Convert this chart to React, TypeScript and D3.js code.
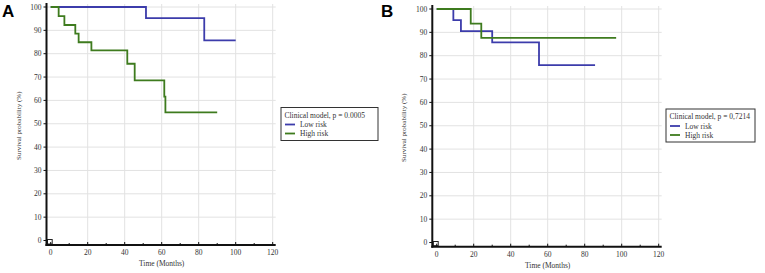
import React from "react";
import * as d3 from "d3";

const xTicks = [0, 20, 40, 60, 80, 100, 120];
const xMinor = [10, 30, 50, 70, 90, 110];
const yTicks = [0, 10, 20, 30, 40, 50, 60, 70, 80, 90, 100];

// Panel A
const aLowTimes = [0, 51.5, 83, 100];
const aLowSurv = [100, 95.2, 85.7, 85.7];
const aHighTimes = [0, 4.3, 7.4, 13.3, 15.1, 22, 41.4, 45.4, 61.4, 62, 90];
const aHighSurv = [100, 96.1, 92.3, 88.6, 84.9, 81.4, 75.7, 68.6, 61.6, 54.9, 54.9];
const aLegendTitle = "Clinical model, p = 0.0005";

// Panel B
const bLowTimes = [0, 9, 13.1, 30, 55.3, 85.6];
const bLowSurv = [100, 95.2, 90.5, 85.7, 76, 76];
const bHighTimes = [0, 18.4, 24.1, 97];
const bHighSurv = [100, 93.7, 87.6, 87.6];
const bLegendTitle = "Clinical model, p = 0,7214";

const seriesNames = ["Low risk", "High risk"];
const BLUE = "#3c3cab";
const GREEN = "#3e7b1e";
const FONT = "'Liberation Serif', 'DejaVu Serif', serif";
const TXT = "#333";

type PanelProps = {
  label: string;
  labelX: number;
  x0: number;
  y0: number;
  y100: number;
  axisX: number;
  axisY: number;
  low: [number[], number[]];
  high: [number[], number[]];
  legendTitle: string;
  legend: { x: number; y: number; w: number; h: number };
  yTitleX: number;
};

function Panel(p: PanelProps) {
  const x = d3.scaleLinear().domain([0, 120]).range([p.x0, p.x0 + 222]);
  const y = d3.scaleLinear().domain([0, 100]).range([p.y0, p.y100]);
  const line = d3
    .line<[number, number]>()
    .x((d) => x(d[0]))
    .y((d) => y(d[1]))
    .curve(d3.curveStepAfter);
  const mk = (s: [number[], number[]]) =>
    line(s[0].map((t, i) => [t, s[1][i]] as [number, number])) || "";
  const top = p.y100 - 3;
  const right = x(120) + 3;
  return (
    <g>
      <text x={p.labelX} y={17} fontFamily="Arial, 'Liberation Sans', sans-serif" fontWeight="bold" fontSize={17}>
        {p.label}
      </text>
      {/* grid */}
      {yTicks.filter((t) => t > 0).map((t) => (
        <line key={"gy" + t} x1={p.axisX} x2={right} y1={y(t)} y2={y(t)} stroke="#e2e2e2" strokeWidth={1} />
      ))}
      {xTicks.filter((t) => t > 0).map((t) => (
        <line key={"gx" + t} x1={x(t)} x2={x(t)} y1={top} y2={p.axisY} stroke="#e2e2e2" strokeWidth={1} />
      ))}
      {/* small corner box */}
      <rect x={p.axisX + 1} y={y(0) - 1} width={x(0) - p.axisX + 0.5} height={p.axisY - y(0)} fill="none" stroke="#222" strokeWidth={1} />
      {/* curves */}
      <path d={mk(p.low)} fill="none" stroke={BLUE} strokeWidth={1.8} />
      <path d={mk(p.high)} fill="none" stroke={GREEN} strokeWidth={1.8} />
      {/* axes */}
      <line x1={p.axisX} x2={p.axisX} y1={top - 1} y2={p.axisY + 1} stroke="#111" strokeWidth={2} />
      <line x1={p.axisX - 1} x2={right} y1={p.axisY} y2={p.axisY} stroke="#111" strokeWidth={2} />
      {yTicks.map((t) => (
        <g key={"yt" + t}>
          <line x1={p.axisX - 3} x2={p.axisX} y1={y(t)} y2={y(t)} stroke="#111" strokeWidth={1} />
          <text x={p.axisX - 5} y={y(t) + 2.5} textAnchor="end" fontFamily={FONT} fontSize={7.5} fill={TXT}>
            {t}
          </text>
        </g>
      ))}
      {xTicks.map((t) => (
        <g key={"xt" + t}>
          <line x1={x(t)} x2={x(t)} y1={p.axisY - 3} y2={p.axisY} stroke="#111" strokeWidth={1} />
          <text x={x(t)} y={p.axisY + 10} textAnchor="middle" fontFamily={FONT} fontSize={7.5} fill={TXT}>
            {t}
          </text>
        </g>
      ))}
      {xMinor.map((t) => (
        <line key={"xm" + t} x1={x(t)} x2={x(t)} y1={p.axisY - 2} y2={p.axisY} stroke="#111" strokeWidth={1} />
      ))}
      <text x={x(60)} y={p.axisY + 21} textAnchor="middle" fontFamily={FONT} fontSize={7.5} fill={TXT}>
        Time (Months)
      </text>
      <text
        transform={`translate(${p.yTitleX},${y(50) + 2}) rotate(-90)`}
        textAnchor="middle"
        fontFamily={FONT}
        fontSize={7}
        fill={TXT}
      >
        Survival probability (%)
      </text>
      {/* legend */}
      <rect x={p.legend.x} y={p.legend.y} width={p.legend.w} height={p.legend.h} fill="#fff" stroke="#333" strokeWidth={1} />
      <text x={p.legend.x + 3.5} y={p.legend.y + 10} fontFamily={FONT} fontSize={7.5} fill={TXT}>
        {p.legendTitle}
      </text>
      {seriesNames.map((n, i) => (
        <g key={n}>
          <line
            x1={p.legend.x + 4}
            x2={p.legend.x + 14}
            y1={p.legend.y + 17 + i * 9}
            y2={p.legend.y + 17 + i * 9}
            stroke={i === 0 ? BLUE : GREEN}
            strokeWidth={1.8}
          />
          <text x={p.legend.x + 19} y={p.legend.y + 19.5 + i * 9} fontFamily={FONT} fontSize={7.5} fill={TXT}>
            {n}
          </text>
        </g>
      ))}
    </g>
  );
}

export default function App() {
  return (
    <svg width={765} height={273} style={{ position: "absolute", left: 0, top: 0, background: "#fff" }}>
      <rect width={765} height={273} fill="#fff" />
      <Panel
        label="A"
        labelX={2}
        x0={50.7}
        y0={240.5}
        y100={7}
        axisX={46.5}
        axisY={245}
        low={[aLowTimes, aLowSurv]}
        high={[aHighTimes, aHighSurv]}
        legendTitle={aLegendTitle}
        legend={{ x: 281, y: 107.5, w: 97, h: 33 }}
        yTitleX={21}
      />
      <Panel
        label="B"
        labelX={381}
        x0={436.7}
        y0={242.5}
        y100={9}
        axisX={432.3}
        axisY={246.7}
        low={[bLowTimes, bLowSurv]}
        high={[bHighTimes, bHighSurv]}
        legendTitle={bLegendTitle}
        legend={{ x: 666, y: 109, w: 89, h: 33 }}
        yTitleX={406}
      />
    </svg>
  );
}
